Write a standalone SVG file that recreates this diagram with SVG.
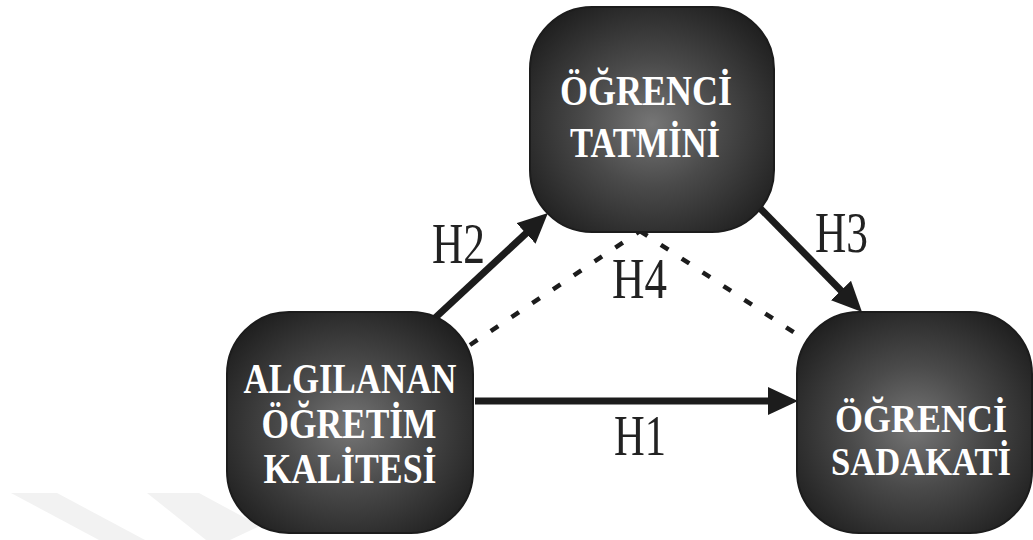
<svg xmlns="http://www.w3.org/2000/svg" width="1033" height="540" viewBox="0 0 1033 540">
  <style>
    .box { fill: url(#boxGrad); stroke: #1c1c1c; stroke-width: 2; }
    .nt { font-family: "Liberation Serif", "Times New Roman", serif; font-weight: bold; font-size: 43px; fill: #ffffff; text-anchor: middle; }
    .nts { font-size: 41px; }
    .ntx { font-size: 39px; }
    .lbl { font-family: "Liberation Serif", "Times New Roman", serif; font-size: 58px; fill: #222222; }
    .solid { stroke: #1c1c1c; stroke-width: 7; fill: none; marker-end: url(#arrow); }
    .dash { stroke: #1c1c1c; stroke-width: 4.5; fill: none; stroke-dasharray: 9 16; }
    .wm { fill: #f2f2f2; }
  </style>
  <defs>
    <radialGradient id="boxGrad" cx="50%" cy="52%" r="62%">
      <stop offset="0" stop-color="#767676"/>
      <stop offset="0.45" stop-color="#4a4a4a"/>
      <stop offset="1" stop-color="#1e1e1e"/>
    </radialGradient>
    <marker id="arrow" markerUnits="userSpaceOnUse" markerWidth="32" markerHeight="30" refX="10" refY="14" orient="auto">
      <path d="M0,0 L30,14 L0,28 Z" fill="#1c1c1c"/>
    </marker>
  </defs>

  <g id="watermark">
    <polygon class="wm" points="11,493 57,493 145,540 99,540"/>
    <polygon class="wm" points="147,493 199,493 260,526 230,540 206,540"/>
  </g>

  <g id="connectors">
    <line class="solid" x1="475" y1="401" x2="778" y2="401"/>
    <line class="solid" x1="435" y1="318" x2="533.3" y2="226.6"/>
    <line class="solid" x1="755" y1="203" x2="848" y2="297.7"/>
    <line class="dash" x1="470" y1="345" x2="640" y2="231"/>
    <line class="dash" x1="640" y1="231" x2="810" y2="343"/>
    <text class="lbl" x="614" y="455" textLength="52" lengthAdjust="spacingAndGlyphs">H1</text>
    <text class="lbl" x="432" y="263" textLength="53" lengthAdjust="spacingAndGlyphs">H2</text>
    <text class="lbl" x="815" y="252" textLength="53" lengthAdjust="spacingAndGlyphs">H3</text>
    <text class="lbl" x="612" y="298" textLength="55" lengthAdjust="spacingAndGlyphs">H4</text>
  </g>

  <g id="node-tatmin">
    <rect class="box" x="530" y="7" width="244" height="225" rx="62" ry="62"/>
    <text class="nt" x="646" y="105" textLength="172" lengthAdjust="spacingAndGlyphs">ÖĞRENCİ</text>
    <text class="nt" x="645" y="157" textLength="150" lengthAdjust="spacingAndGlyphs">TATMİNİ</text>
  </g>

  <g id="node-kalite">
    <rect class="box" x="227" y="312" width="246" height="221" rx="62" ry="62"/>
    <text class="nt" x="350" y="393" textLength="213" lengthAdjust="spacingAndGlyphs">ALGILANAN</text>
    <text class="nt" x="349" y="438" textLength="175" lengthAdjust="spacingAndGlyphs">ÖĞRETİM</text>
    <text class="nt" x="350" y="483" textLength="173" lengthAdjust="spacingAndGlyphs">KALİTESİ</text>
  </g>

  <g id="node-sadakat">
    <rect class="box" x="797" y="312" width="235" height="221" rx="62" ry="62"/>
    <text class="nt nts" x="921" y="432" textLength="172" lengthAdjust="spacingAndGlyphs">ÖĞRENCİ</text>
    <text class="nt ntx" x="921" y="475" textLength="180" lengthAdjust="spacingAndGlyphs">SADAKATİ</text>
  </g>
</svg>
